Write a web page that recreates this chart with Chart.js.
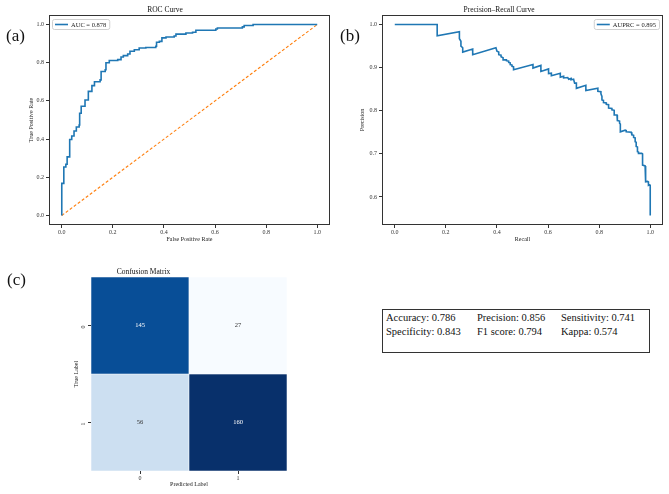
<!DOCTYPE html>
<html>
<head>
<meta charset="utf-8">
<script src="https://cdn.jsdelivr.net/npm/chart.js@4.4.1/dist/chart.umd.min.js"></script>
<style>
    body { margin: 0; background: #fff; width: 669px; height: 494px; position: relative; overflow: hidden; font-family: "Liberation Serif", "Times New Roman", serif; }
    canvas { position: absolute; }
    .tag { position: absolute; font-size: 17px; line-height: 17px; color: #111; }
    #metrics { position: absolute; left: 382px; top: 309px; width: 263px; height: 41px; border: 1px solid #333; font-size: 10.5px; line-height: 14px; padding: 1px 0 0 3px; box-sizing: content-box; color: #111; }
    #metrics .row { display: flex; }
    #metrics .row span:nth-child(1) { width: 91px; }
    #metrics .row span:nth-child(2) { width: 84px; }
</style>
</head>
<body>
<canvas id="roc" width="335" height="245" style="left:0;top:0"></canvas>
<canvas id="pr" width="334" height="245" style="left:335px;top:0"></canvas>
<canvas id="cm" width="330" height="236" style="left:0;top:258px"></canvas>
<div class="tag" style="left:6px;top:27px">(a)</div>
<div class="tag" style="left:340px;top:27px">(b)</div>
<div class="tag" style="left:7px;top:271px">(c)</div>
<div id="metrics"></div>

<script>
// ROC curve (corner points)
const fpr = [0, 0, 0.008, 0.016, 0.021, 0.031, 0.039, 0.048, 0.057, 0.068,
    0.070, 0.076, 0.091, 0.104, 0.118, 0.128, 0.150, 0.154, 0.170, 0.173,
    0.186, 0.219, 0.232, 0.241, 0.258, 0.267, 0.284, 0.303, 0.329, 0.368,
    0.371, 0.382, 0.392, 0.408, 0.440, 0.447, 0.486, 0.512, 0.525, 0.603,
    0.609, 0.707, 0.714, 0.749, 1.000];
const tpr = [0, 0.168, 0.254, 0.268, 0.307, 0.398, 0.416, 0.442, 0.463, 0.474,
    0.535, 0.572, 0.605, 0.650, 0.680, 0.700, 0.710, 0.754, 0.763, 0.800,
    0.812, 0.816, 0.830, 0.837, 0.846, 0.860, 0.868, 0.877, 0.880, 0.886,
    0.907, 0.912, 0.930, 0.935, 0.940, 0.950, 0.956, 0.960, 0.970, 0.977,
    0.982, 0.988, 0.995, 1.000, 1.000];
const diagX = [0, 1];
const diagY = [0, 1];
const rocTicks = [0, 0.2, 0.4, 0.6, 0.8, 1.0];

// Precision-recall curve
const recall = [0.000, 0.166, 0.166, 0.253, 0.253, 0.259, 0.259, 0.266, 0.266, 0.305,
    0.305, 0.396, 0.400, 0.407, 0.407, 0.416, 0.416, 0.424, 0.424, 0.437,
    0.437, 0.446, 0.446, 0.452, 0.452, 0.459, 0.459, 0.465, 0.465, 0.541,
    0.541, 0.572, 0.572, 0.602, 0.602, 0.613, 0.613, 0.648, 0.648, 0.661,
    0.661, 0.677, 0.681, 0.690, 0.690, 0.700, 0.704, 0.711, 0.711, 0.748,
    0.748, 0.795, 0.795, 0.807, 0.807, 0.811, 0.811, 0.817, 0.817, 0.828,
    0.828, 0.837, 0.837, 0.850, 0.850, 0.859, 0.859, 0.870, 0.870, 0.872,
    0.872, 0.880, 0.880, 0.883, 0.883, 0.902, 0.906, 0.906, 0.926, 0.928,
    0.928, 0.935, 0.935, 0.941, 0.941, 0.945, 0.945, 0.950, 0.950, 0.954,
    0.954, 0.967, 0.970, 0.970, 0.980, 0.980, 0.983, 0.983, 0.990, 0.993,
    0.993, 0.997, 1.000, 1.000];
const precision = [1.000, 1.000, 0.974, 0.983, 0.967, 0.961, 0.950, 0.946, 0.936, 0.943,
    0.930, 0.946, 0.938, 0.936, 0.930, 0.929, 0.925, 0.923, 0.918, 0.918,
    0.916, 0.915, 0.912, 0.911, 0.907, 0.906, 0.903, 0.902, 0.895, 0.907,
    0.899, 0.905, 0.891, 0.897, 0.886, 0.887, 0.881, 0.887, 0.878, 0.880,
    0.876, 0.877, 0.873, 0.875, 0.872, 0.873, 0.864, 0.864, 0.852, 0.859,
    0.847, 0.852, 0.845, 0.844, 0.839, 0.833, 0.825, 0.824, 0.819, 0.818,
    0.815, 0.814, 0.806, 0.805, 0.802, 0.801, 0.790, 0.790, 0.786, 0.785,
    0.777, 0.776, 0.771, 0.769, 0.751, 0.755, 0.754, 0.751, 0.750, 0.748,
    0.744, 0.743, 0.738, 0.737, 0.728, 0.727, 0.717, 0.716, 0.705, 0.704,
    0.701, 0.701, 0.700, 0.674, 0.672, 0.670, 0.668, 0.635, 0.636, 0.635,
    0.627, 0.628, 0.627, 0.557];
const prYTicks = [0.6, 0.7, 0.8, 0.9, 1.0];

// Confusion matrix
const cmLabels = ['0', '1'];
const cmValues = [
    [145, 27],
    [56, 160]
];

// Metrics
const metricNames = ['Accuracy', 'Precision', 'Sensitivity', 'Specificity', 'F1 score', 'Kappa'];
const metricValues = [0.786, 0.856, 0.741, 0.843, 0.794, 0.574];

Chart.defaults.font.family = '"Liberation Serif", "Times New Roman", serif';
Chart.defaults.color = '#333';

const bluesStops = ['#f7fbff', '#deebf7', '#c6dbef', '#9ecae1', '#6baed6', '#4292c6', '#2171b5', '#08519c', '#08306b'];
const cmFlat = cmValues.flat();
const cmMin = Math.min(...cmFlat), cmMax = Math.max(...cmFlat);

function blues(v) {
    const t = (v - cmMin) / (cmMax - cmMin);
    const pos = t * (bluesStops.length - 1);
    const i = Math.min(Math.floor(pos), bluesStops.length - 2);
    const f = pos - i;
    const a = bluesStops[i], b = bluesStops[i + 1];
    const ch = k => {
        const ca = parseInt(a.substr(k, 2), 16), cb = parseInt(b.substr(k, 2), 16);
        return Math.round(ca + (cb - ca) * f);
    };
    return `rgb(${ch(1)}, ${ch(3)}, ${ch(5)})`;
}

// box round the plot area, like a matplotlib frame
const frame = {
    id: 'frame',
    afterDraw(chart) {
        const { ctx, chartArea: a } = chart;
        ctx.save();
        ctx.strokeStyle = '#333';
        ctx.lineWidth = 1;
        ctx.strokeRect(Math.round(a.left) + 0.5, Math.round(a.top) + 0.5,
            Math.round(a.right - a.left) - 1, Math.round(a.bottom - a.top) - 1);
        ctx.restore();
    }
};

// legend box drawn inside the plot area
const boxLegend = {
    id: 'boxLegend',
    afterDatasetsDraw(chart, args, opts) {
        const ds = chart.data.datasets[0];
        const { ctx, chartArea: a } = chart;
        ctx.save();
        ctx.font = '6.5px "Liberation Serif"';
        const tw = ctx.measureText(ds.label).width;
        const w = tw + 22, h = 10;
        const x = opts.align === 'right' ? a.right - w - 4 : a.left + 3;
        const y = a.top + 4;
        ctx.beginPath();
        ctx.roundRect(x + 0.5, y + 0.5, w, h, 2);
        ctx.fillStyle = 'rgba(255,255,255,0.85)';
        ctx.fill();
        ctx.strokeStyle = '#d0d0d0';
        ctx.lineWidth = 1;
        ctx.stroke();
        ctx.beginPath();
        ctx.moveTo(x + 3, y + h / 2 + 0.5);
        ctx.lineTo(x + 16, y + h / 2 + 0.5);
        ctx.strokeStyle = ds.borderColor;
        ctx.lineWidth = 1.6;
        ctx.stroke();
        ctx.fillStyle = '#222';
        ctx.textBaseline = 'middle';
        ctx.fillText(ds.label, x + 19, y + h / 2 + 1);
        ctx.restore();
    }
};

// counts written in the heatmap cells
const cellText = {
    id: 'cellText',
    afterDatasetsDraw(chart) {
        const ctx = chart.ctx;
        ctx.save();
        ctx.font = '6.5px "Liberation Serif"';
        ctx.textAlign = 'center';
        ctx.textBaseline = 'middle';
        chart.data.datasets.forEach((ds, r) => {
            chart.getDatasetMeta(r).data.forEach((bar, c) => {
                const v = cmValues[r][c];
                const t = (v - cmMin) / (cmMax - cmMin);
                ctx.fillStyle = t > 0.5 ? '#fff' : '#333';
                ctx.fillText(String(v), bar.x, (bar.y + bar.base) / 2);
            });
        });
        ctx.restore();
    }
};

function linAxis(pos, label, min, max, ticks, fitSize, titleGap) {
    return {
        type: 'linear',
        position: pos,
        min: min,
        max: max,
        afterBuildTicks: ax => { ax.ticks = ticks.map(v => ({ value: v })); },
        afterFit: ax => { if (pos === 'bottom') ax.height = fitSize; else ax.width = fitSize; },
        ticks: { font: { size: 6 }, color: '#333', padding: pos === 'bottom' ? 1 : 2, autoSkip: false, maxRotation: 0, callback: v => v.toFixed(1) },
        grid: { drawOnChartArea: false, tickLength: 3, color: '#333' },
        border: { display: false },
        title: {
            display: true, text: label, font: { size: 6 }, color: '#222',
            padding: pos === 'bottom' ? { top: 0, bottom: titleGap } : { top: titleGap, bottom: 0 }
        }
    };
}

function titleOpts(text, top) {
    return { display: true, text: text, color: '#111', font: { size: 7.5, weight: 'normal' }, padding: { top: top, bottom: 0 } };
}

new Chart(document.getElementById('roc'), {
    type: 'line',
    data: {
        datasets: [{
            label: 'AUC = 0.878',
            data: fpr.map((x, i) => ({ x: x, y: tpr[i] })),
            borderColor: '#1f77b4',
            borderWidth: 1.6,
            stepped: 'before',
            pointRadius: 0
        }, {
            label: 'chance',
            data: diagX.map((x, i) => ({ x: x, y: diagY[i] })),
            borderColor: '#ff7f0e',
            borderWidth: 1.1,
            borderDash: [3, 2],
            pointRadius: 0
        }]
    },
    options: {
        responsive: false,
        animation: false,
        devicePixelRatio: 1,
        layout: { padding: { left: 0, right: 5, top: 0, bottom: 0 } },
        plugins: {
            legend: { display: false },
            tooltip: { enabled: false },
            title: titleOpts('ROC Curve', 6),
            boxLegend: { align: 'left' }
        },
        scales: {
            x: linAxis('bottom', 'False Positive Rate', -0.05, 1.05, rocTicks, 20, 1.5),
            y: linAxis('left', 'True Positive Rate', -0.05, 1.05, rocTicks, 49, 28)
        }
    },
    plugins: [frame, boxLegend]
});

new Chart(document.getElementById('pr'), {
    type: 'line',
    data: {
        datasets: [{
            label: 'AUPRC = 0.895',
            data: recall.map((x, i) => ({ x: x, y: precision[i] })),
            borderColor: '#1f77b4',
            borderWidth: 1.6,
            pointRadius: 0
        }]
    },
    options: {
        responsive: false,
        animation: false,
        devicePixelRatio: 1,
        layout: { padding: { left: 0, right: 6, top: 0, bottom: 0 } },
        plugins: {
            legend: { display: false },
            tooltip: { enabled: false },
            title: titleOpts('Precision\u2013Recall Curve', 6),
            boxLegend: { align: 'right' }
        },
        scales: {
            x: linAxis('bottom', 'Recall', -0.05, 1.05, rocTicks, 20, 1.5),
            y: linAxis('left', 'Precision', 0.535, 1.022, prYTicks, 47, 24)
        }
    },
    plugins: [frame, boxLegend]
});

const nRows = cmLabels.length;
new Chart(document.getElementById('cm'), {
    type: 'bar',
    data: {
        labels: cmLabels,
        datasets: cmValues.map((row, r) => ({
            label: 'True ' + cmLabels[r],
            data: row.map(() => [nRows - 1 - r, nRows - r]),
            backgroundColor: row.map(v => blues(v)),
            borderColor: '#fff',
            borderWidth: 0.6,
            borderSkipped: false,
            grouped: false,
            barPercentage: 1,
            categoryPercentage: 1
        }))
    },
    options: {
        responsive: false,
        animation: false,
        devicePixelRatio: 1,
        layout: { padding: { left: 0, right: 43, top: 0, bottom: 5 } },
        plugins: {
            legend: { display: false },
            tooltip: { enabled: false },
            title: titleOpts('Confusion Matrix', 10)
        },
        scales: {
            x: {
                type: 'category',
                afterFit: ax => { ax.height = 18; },
                ticks: { font: { size: 6 }, color: '#333', padding: 1, maxRotation: 0 },
                grid: { drawOnChartArea: false, offset: false, tickLength: 3, color: '#333' },
                border: { display: false },
                title: { display: true, text: 'Predicted Label', font: { size: 6 }, color: '#222', padding: { top: 0, bottom: 1 } }
            },
            y: {
                type: 'linear',
                min: 0,
                max: nRows,
                afterBuildTicks: ax => { ax.ticks = cmLabels.map((l, i) => ({ value: nRows - i - 0.5 })); },
                afterFit: ax => { ax.width = 91; },
                ticks: { font: { size: 6 }, color: '#333', padding: 5, minRotation: 90, maxRotation: 90, callback: v => cmLabels[nRows - 1 - Math.floor(v)] },
                grid: { drawOnChartArea: false, tickLength: 3, color: '#333' },
                border: { display: false },
                title: { display: true, text: 'True Label', font: { size: 6 }, color: '#222', padding: { top: 73, bottom: 0 } }
            }
        }
    },
    plugins: [cellText]
});

// metrics table, two rows of three
let html = '';
for (let r = 0; r < 2; r++) {
    html += '<div class="row">';
    for (let c = 0; c < 3; c++) {
        const i = r * 3 + c;
        html += `<span>${metricNames[i]}: ${metricValues[i].toFixed(3)}</span>`;
    }
    html += '</div>';
}
document.getElementById('metrics').innerHTML = html;
</script>
</body>
</html>
